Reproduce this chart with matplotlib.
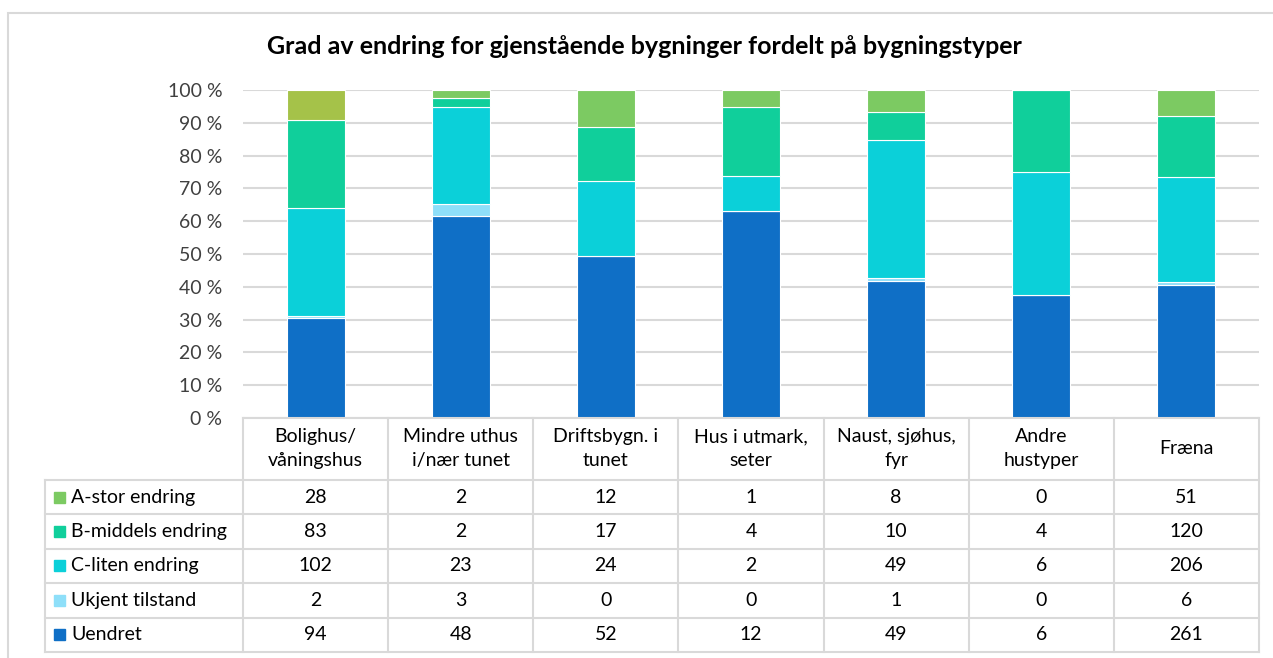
import numpy as np
import matplotlib.pyplot as plt
from matplotlib.patches import Rectangle

plt.rcParams['font.family'] = ['Lato', 'DejaVu Sans']

categories = ['Bolighus/\nvåningshus', 'Mindre uthus\ni/nær tunet', 'Driftsbygn. i\ntunet',
              'Hus i utmark,\nseter', 'Naust, sjøhus,\nfyr', 'Andre\nhustyper', 'Fræna']
# series listed top-to-bottom as in the table
series_names = ['A-stor endring', 'B-middels endring', 'C-liten endring', 'Ukjent tilstand', 'Uendret']
a_stor = [28, 2, 12, 1, 8, 0, 51]
b_middels = [83, 2, 17, 4, 10, 4, 120]
c_liten = [102, 23, 24, 2, 49, 6, 206]
ukjent = [2, 3, 0, 0, 1, 0, 6]
uendret = [94, 48, 52, 12, 49, 6, 261]

colors = ['#7CCA62', '#10CF9B', '#0BD0D9', '#8EDFF9', '#0F6FC6']
first_bar_top_color = '#A5C249'

FS = 14
W, H = 1273, 658
fig = plt.figure(figsize=(W / 100, H / 100), dpi=100)

# outer chart frame
fig.add_artist(Rectangle((8 / W, -0.05), 1.2, 1 - 13 / H + 0.05, transform=fig.transFigure,
                         fill=False, ec='#D9D9D9', lw=1.5))

fig.text(644 / W, 1 - 47 / H, 'Grad av endring for gjenstående bygninger fordelt på bygningstyper',
         ha='center', va='center', fontsize=18, fontweight='bold', color='#000000')

# bar chart area
left_px, right_px, top_px, bot_px = 243, 1259, 90, 418
ax = fig.add_axes([left_px / W, 1 - bot_px / H, (right_px - left_px) / W, (bot_px - top_px) / H])

data = np.array([a_stor, b_middels, c_liten, ukjent, uendret], dtype=float)
pct = data / data.sum(axis=0) * 100
x = np.arange(len(categories))

bottom = np.zeros(len(categories))
for i in range(len(series_names) - 1, -1, -1):
    cols = [colors[i]] * len(categories)
    if i == 0:
        cols[0] = first_bar_top_color
    ax.bar(x, pct[i], width=0.4, bottom=bottom, color=cols, edgecolor='white', linewidth=0.8, zorder=3)
    bottom += pct[i]

ax.set_xlim(-0.5, len(categories) - 0.5)
ax.set_ylim(0, 100)
ax.set_yticks(np.arange(0, 101, 10))
ax.set_yticklabels([f'{v} %' for v in range(0, 101, 10)], fontsize=FS, color='#404040')
ax.tick_params(axis='y', length=0, pad=15)
ax.set_xticks([])
ax.grid(axis='y', color='#D9D9D9', linewidth=1.5, zorder=0)
for s in ax.spines.values():
    s.set_visible(False)

# data table below the chart
unit = (right_px - left_px) / len(categories)
table_left_px = 45
table_bot_px = 652
header_bot_px = 480
tax = fig.add_axes([table_left_px / W, 1 - table_bot_px / H, (right_px - table_left_px) / W,
                    (table_bot_px - bot_px) / H])
x0 = -0.5 - (left_px - table_left_px) / unit
tax.set_xlim(x0, len(categories) - 0.5)
tax.set_ylim(table_bot_px, bot_px)
tax.axis('off')

lc = '#D9D9D9'
lw = 1.5
row_h = (table_bot_px - header_bot_px) / len(series_names)
row_edges = header_bot_px + row_h * np.arange(len(series_names) + 1)

for e in np.arange(len(categories) + 1) - 0.5:
    tax.plot([e, e], [bot_px, table_bot_px], color=lc, lw=lw, clip_on=False)
tax.plot([x0, x0], [header_bot_px, table_bot_px], color=lc, lw=lw, clip_on=False)
tax.plot([-0.5, len(categories) - 0.5], [bot_px, bot_px], color=lc, lw=lw, clip_on=False)
for r in row_edges:
    tax.plot([x0, len(categories) - 0.5], [r, r], color=lc, lw=lw, clip_on=False)

for j, c in enumerate(categories):
    tax.text(j, (bot_px + header_bot_px) / 2, c, ha='center', va='center', fontsize=FS,
             color='#000000', linespacing=1.5)

for i, name in enumerate(series_names):
    yc = (row_edges[i] + row_edges[i + 1]) / 2
    tax.add_patch(Rectangle((x0 + 9 / unit, yc - 5.5), 11 / unit, 11, color=colors[i], clip_on=False))
    tax.text(x0 + 26 / unit, yc, name, ha='left', va='center', fontsize=FS, color='#000000')
    for j in range(len(categories)):
        tax.text(j, yc, f'{int(data[i, j])}', ha='center', va='center', fontsize=FS, color='#000000')

fig.savefig('out.png', dpi=100)
